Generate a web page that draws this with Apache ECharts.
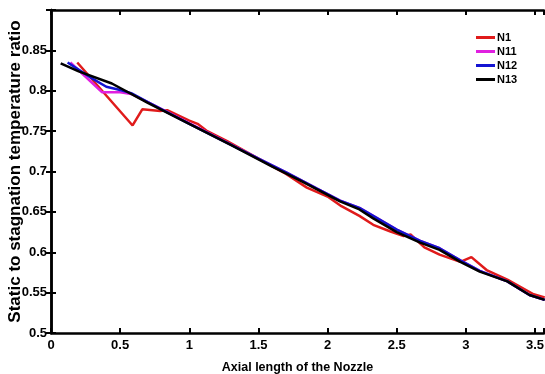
<!DOCTYPE html>
<html><head><meta charset="utf-8">
<script src="https://cdn.jsdelivr.net/npm/echarts@6/dist/echarts.min.js"></script>
<style>html,body{margin:0;padding:0;background:#fff}#c{width:545px;height:374px}</style>
</head><body><div id="c"></div>
<script>
const seriesNames = ['N1', 'N11', 'N12', 'N13'];
const seriesColors = ['#e01b1b', '#e020e0', '#1414d2', '#000000'];
const xTicks = [0, 0.5, 1, 1.5, 2, 2.5, 3, 3.5];
const yTicks = [0.5, 0.55, 0.6, 0.65, 0.7, 0.75, 0.8, 0.85];

const n1 = [[0.19,0.835],[0.59,0.757],[0.66,0.777],[0.79,0.775],[0.84,0.776],[1.0,0.763],[1.06,0.759],[1.13,0.75],[1.27,0.738],[1.5,0.716],[1.7,0.697],[1.85,0.68],[2.0,0.669],[2.1,0.657],[2.23,0.645],[2.33,0.634],[2.45,0.626],[2.55,0.62],[2.6,0.622],[2.7,0.606],[2.81,0.597],[2.96,0.588],[3.04,0.594],[3.15,0.578],[3.3,0.566],[3.49,0.548],[3.57,0.544]];
const n11 = [[0.14,0.835],[0.37,0.798],[0.5,0.798],[0.58,0.796],[0.7,0.786],[1.0,0.76],[1.5,0.716],[1.7,0.699],[1.92,0.679],[2.0,0.672],[2.09,0.664],[2.23,0.655],[2.33,0.645],[2.5,0.628],[2.67,0.614],[2.81,0.605],[2.96,0.59],[3.1,0.577],[3.3,0.564],[3.46,0.547],[3.57,0.541]];
const n12 = [[0.12,0.835],[0.3,0.815],[0.4,0.805],[0.5,0.801],[0.58,0.797],[0.7,0.786],[1.0,0.759],[1.5,0.716],[1.7,0.699],[1.92,0.679],[2.0,0.672],[2.09,0.664],[2.23,0.655],[2.33,0.645],[2.5,0.628],[2.67,0.614],[2.81,0.605],[2.96,0.59],[3.1,0.577],[3.3,0.564],[3.46,0.547],[3.57,0.541]];
const n13 = [[0.07,0.834],[0.2,0.824],[0.44,0.809],[0.7,0.785],[1.0,0.759],[1.3,0.733],[1.6,0.706],[1.8,0.689],[2.0,0.671],[2.09,0.663],[2.23,0.653],[2.33,0.642],[2.5,0.625],[2.67,0.612],[2.81,0.603],[2.96,0.588],[3.1,0.576],[3.3,0.564],[3.46,0.547],[3.57,0.541]];
const allData = [n1, n11, n12, n13];

const chart = echarts.init(document.getElementById('c'));
const FF = '"Liberation Sans",Arial,sans-serif';
const lbl = {fontFamily:FF, fontWeight:'bold', fontSize:13, color:'#000'};
const lineStyle = {color:'#000', width:2.5};
const tickStyle = {show:true, inside:true, length:5, lineStyle:{color:'#000', width:2}};
const fmtX = v => xTicks.some(t => Math.abs(t - v) < 1e-9) ? String(v) : '';
const fmtY = v => yTicks.some(t => Math.abs(t - v) < 1e-9) ? String(+v.toFixed(2)) : '';
chart.setOption({
  animation:false,
  backgroundColor:'#fff',
  grid:{left:51, top:10, right:1, bottom:41, containLabel:false, outerBoundsMode:'none'},
  legend:{
    orient:'vertical', left:471, top:27, itemWidth:19, itemHeight:3, itemGap:3, icon:'rect',
    textStyle:{fontFamily:FF, fontWeight:'bold', fontSize:11, lineHeight:10, color:'#000', padding:[0,0,0,-3]},
    data: seriesNames
  },
  xAxis:[{
    type:'value', min:0, max:3.565, interval:0.5, position:'bottom',
    name:'Axial length of the Nozzle', nameLocation:'middle', nameGap:28, nameMoveOverlap:false,
    nameTextStyle:Object.assign({}, lbl, {fontSize:12.5}),
    axisLine:{show:true, lineStyle:lineStyle}, axisTick:tickStyle,
    axisLabel:Object.assign({}, lbl, {margin:6, formatter:fmtX}), splitLine:{show:false}
  },{
    type:'value', min:0, max:3.565, interval:0.5, position:'top',
    axisLine:{show:true, lineStyle:lineStyle}, axisTick:tickStyle,
    axisLabel:{show:false}, splitLine:{show:false}
  }],
  yAxis:[{
    type:'value', min:0.5, max:0.9, interval:0.05, position:'left',
    name:'Static to stagnation temperature ratio', nameLocation:'middle', nameGap:27, nameMoveOverlap:false,
    nameTextStyle:Object.assign({}, lbl, {fontSize:17}),
    axisLine:{show:true, lineStyle:lineStyle}, axisTick:tickStyle,
    axisLabel:Object.assign({}, lbl, {margin:4, formatter:fmtY}), splitLine:{show:false}
  },{
    type:'value', min:0.5, max:0.9, interval:0.05, position:'right',
    axisLine:{show:true, lineStyle:lineStyle}, axisTick:tickStyle,
    axisLabel:{show:false}, splitLine:{show:false}
  }],
  series: seriesNames.map((n, i) => ({
    name:n, type:'line', data:allData[i], showSymbol:false, symbol:'none', clip:true,
    lineStyle:{color:seriesColors[i], width:2.5}, itemStyle:{color:seriesColors[i]}, z:2+i
  }))
});
</script></body></html>
